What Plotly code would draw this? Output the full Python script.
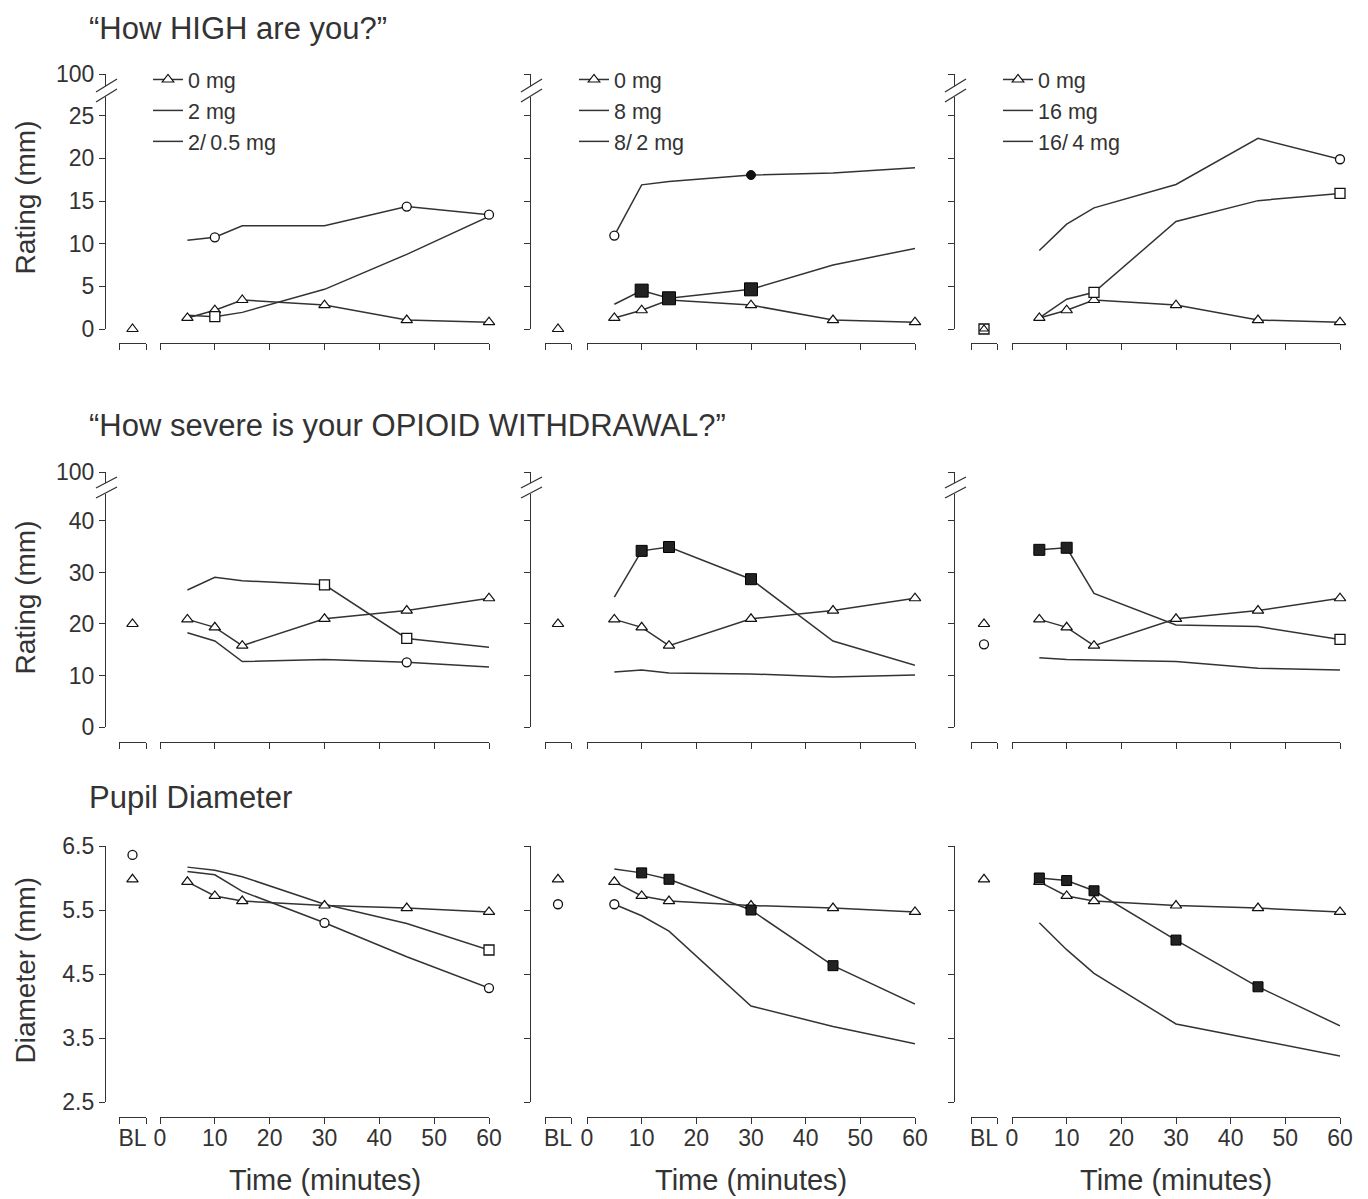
import plotly.graph_objects as go

# the page body adds an 8 px margin, so the figure is drawn 8 px smaller
PAGE_OFF = 8
W, H = 1368 - PAGE_OFF, 1199 - PAGE_OFF
FONT = "Liberation Sans, Arial, Helvetica, sans-serif"
INK = "#333333"

# ---------------- data ----------------
TIMES = [5, 10, 15, 30, 45, 60]
X_TICKS = [0, 10, 20, 30, 40, 50, 60]

# "How HIGH are you?"  (rating, mm)
high_placebo_bl = 0.0
high_placebo = [1.3, 2.2, 3.4, 2.8, 1.05, 0.8]
high_2mg = [10.4, 10.75, 12.1, 12.1, 14.35, 13.4]
high_2_05mg = [1.6, 1.45, 1.95, 4.65, 8.75, 13.2]
high_8mg = [10.95, 16.9, 17.3, 18.05, 18.3, 18.9]
high_8_2mg = [2.9, 4.5, 3.6, 4.65, 7.5, 9.45]
high_16mg = [9.2, 12.3, 14.2, 16.95, 22.35, 19.9]
high_16_4mg = [1.3, 3.5, 4.3, 12.6, 15.05, 15.9]
high_16_4mg_bl = 0.0

# "How severe is your OPIOID WITHDRAWAL?"  (rating, mm)
wd_placebo_bl = 20.0
wd_placebo = [20.9, 19.35, 15.8, 21.0, 22.6, 25.0]
wd_2mg = [18.3, 16.7, 12.7, 13.1, 12.55, 11.65]
wd_2_05mg = [26.6, 29.05, 28.4, 27.6, 17.2, 15.5]
wd_8mg = [10.7, 11.05, 10.5, 10.3, 9.7, 10.1]
wd_8_2mg = [25.2, 34.2, 34.95, 28.7, 16.7, 12.0]
wd_16mg = [13.45, 13.1, 13.0, 12.7, 11.4, 11.05]
wd_16mg_bl = 16.05
wd_16_4mg = [34.4, 34.8, 25.95, 19.8, 19.5, 17.0]

# Pupil diameter (mm)
pupil_placebo_bl = 5.98
pupil_placebo = [5.94, 5.72, 5.64, 5.57, 5.53, 5.47]
pupil_2mg = [6.1, 6.05, 5.79, 5.3, 4.77, 4.28]
pupil_2mg_bl = 6.36
pupil_2_05mg = [6.17, 6.12, 6.02, 5.59, 5.29, 4.875]
pupil_8mg = [5.59, 5.41, 5.17, 4.0, 3.68, 3.41]
pupil_8mg_bl = 5.59
pupil_8_2mg = [6.14, 6.08, 5.98, 5.5, 4.63, 4.03]
pupil_16mg = [5.3, 4.88, 4.51, 3.72, 3.47, 3.22]
pupil_16_4mg = [6.0, 5.96, 5.8, 5.03, 4.3, 3.69]

# marked time points (indices into TIMES): open / filled
high_2mg_open, high_2mg_fill = [1, 4, 5], []
high_2_05mg_open, high_2_05mg_fill = [1], []
high_8mg_open, high_8mg_fill = [0], [3]
high_8_2mg_open, high_8_2mg_fill = [], [1, 2, 3]
high_16mg_open, high_16mg_fill = [5], []
high_16_4mg_open, high_16_4mg_fill = [2, 5], []

wd_2mg_open, wd_2mg_fill = [4], []
wd_2_05mg_open, wd_2_05mg_fill = [3, 4], []
wd_8mg_open, wd_8mg_fill = [], []
wd_8_2mg_open, wd_8_2mg_fill = [], [1, 2, 3]
wd_16mg_open, wd_16mg_fill = [], []
wd_16_4mg_open, wd_16_4mg_fill = [5], [0, 1]

pupil_2mg_open, pupil_2mg_fill = [3, 5], []
pupil_2_05mg_open, pupil_2_05mg_fill = [5], []
pupil_8mg_open, pupil_8mg_fill = [0], []
pupil_8_2mg_open, pupil_8_2mg_fill = [], [1, 2, 3, 4]
pupil_16mg_open, pupil_16mg_fill = [], []
pupil_16_4mg_open, pupil_16_4mg_fill = [], [0, 1, 2, 3, 4]

legend_names = [["0 mg", "2 mg", "2/\u20090.5 mg"],
                ["0 mg", "8 mg", "8/\u20092 mg"],
                ["0 mg", "16 mg", "16/\u20094 mg"]]
row_titles = ["\u201cHow HIGH are you?\u201d",
              "\u201cHow severe is your OPIOID WITHDRAWAL?\u201d",
              "Pupil Diameter"]
y_titles = ["Rating (mm)", "Rating (mm)", "Diameter (mm)"]
y_ticks = [[0, 5, 10, 15, 20, 25], [0, 10, 20, 30, 40], [2.5, 3.5, 4.5, 5.5, 6.5]]
y_ranges = [[0, 27.2], [0, 45.24], [2.5, 6.5]]
BREAK_TICK = [100]

placebo_rows = [(high_placebo_bl, high_placebo), (wd_placebo_bl, wd_placebo),
                (pupil_placebo_bl, pupil_placebo)]
panels = [
    [  # row HIGH
        dict(a=high_2mg, ao=high_2mg_open, af=high_2mg_fill, a_bl=None,
             b=high_2_05mg, bo=high_2_05mg_open, bf=high_2_05mg_fill, b_bl=None),
        dict(a=high_8mg, ao=high_8mg_open, af=high_8mg_fill, a_bl=None,
             b=high_8_2mg, bo=high_8_2mg_open, bf=high_8_2mg_fill, b_bl=None),
        dict(a=high_16mg, ao=high_16mg_open, af=high_16mg_fill, a_bl=None,
             b=high_16_4mg, bo=high_16_4mg_open, bf=high_16_4mg_fill, b_bl=high_16_4mg_bl),
    ],
    [  # row WITHDRAWAL
        dict(a=wd_2mg, ao=wd_2mg_open, af=wd_2mg_fill, a_bl=None,
             b=wd_2_05mg, bo=wd_2_05mg_open, bf=wd_2_05mg_fill, b_bl=None),
        dict(a=wd_8mg, ao=wd_8mg_open, af=wd_8mg_fill, a_bl=None,
             b=wd_8_2mg, bo=wd_8_2mg_open, bf=wd_8_2mg_fill, b_bl=None),
        dict(a=wd_16mg, ao=wd_16mg_open, af=wd_16mg_fill, a_bl=wd_16mg_bl,
             b=wd_16_4mg, bo=wd_16_4mg_open, bf=wd_16_4mg_fill, b_bl=None),
    ],
    [  # row PUPIL
        dict(a=pupil_2mg, ao=pupil_2mg_open, af=pupil_2mg_fill, a_bl=pupil_2mg_bl,
             b=pupil_2_05mg, bo=pupil_2_05mg_open, bf=pupil_2_05mg_fill, b_bl=None),
        dict(a=pupil_8mg, ao=pupil_8mg_open, af=pupil_8mg_fill, a_bl=pupil_8mg_bl,
             b=pupil_8_2mg, bo=pupil_8_2mg_open, bf=pupil_8_2mg_fill, b_bl=None),
        dict(a=pupil_16mg, ao=pupil_16mg_open, af=pupil_16mg_fill, a_bl=None,
             b=pupil_16_4mg, bo=pupil_16_4mg_open, bf=pupil_16_4mg_fill, b_bl=None),
    ],
]

# ---------------- layout geometry (page pixels) ----------------
def fx(p):
    return (p - PAGE_OFF) / W


def fy(p):
    return 1 - (p - PAGE_OFF) / H


COL_YAX = [105, 530, 954]
COL_BL = [(119, 146), (545, 571), (971, 997)]
COL_MAIN = [(160, 489), (587, 915), (1012, 1340)]
ROW_MAIN = [(97, 329), (494, 727), (846, 1102)]
ROW_UPPER = [(74, 86), (472, 483), None]
ROW_XLINE = [343, 742, 1117]
ROW_TITLE_Y = [28, 425, 797]
ROW_YTITLE_Y = [198, 598, 970]
SQ_FILL_SIZE = [13, 11, 10]

axis_common = dict(showgrid=False, zeroline=False, showline=True, linecolor=INK,
                   linewidth=1.3, ticks="outside", tickcolor=INK, tickwidth=1.3,
                   ticklen=6, fixedrange=True, automargin=False,
                   tickfont=dict(size=23, color=INK, family=FONT))
minor_x = dict(tickmode="array", ticks="outside", ticklen=6, tickwidth=1.3, tickcolor=INK)

layout = dict(width=W, height=H,
              margin=dict(l=0, r=0, t=0, b=0, pad=0, autoexpand=False),
              paper_bgcolor="white", plot_bgcolor="white",
              font=dict(family=FONT, color=INK, size=22), showlegend=True,
              hovermode=False)

fig = go.Figure()
cnt = {"x": 0, "y": 0}


def new_axis(kind):
    cnt[kind] += 1
    n = cnt[kind]
    key = f"{kind}axis" if n == 1 else f"{kind}axis{n}"
    ref = kind if n == 1 else f"{kind}{n}"
    return key, ref


LINE = dict(color=INK, width=1.5)
TRI = dict(symbol="triangle-up", size=10, color="white", line=dict(color="#111", width=1.2))
OPEN_CIRC = dict(symbol="circle", size=9, color="white", line=dict(color="#111", width=1.3))
FILL_CIRC = dict(symbol="circle", size=9, color="#111", line=dict(color="#111", width=1))
OPEN_SQ = dict(symbol="square", size=10, color="white", line=dict(color="#111", width=1.3))

shapes = []
annotations = []

for r in range(3):
    for c in range(3):
        kb, rb = new_axis("x")
        km, rm = new_axis("x")
        ky, ry = new_axis("y")
        layout[kb] = dict(axis_common, domain=[fx(COL_BL[c][0]), fx(COL_BL[c][1])],
                          range=[0, 1], anchor="free", position=fy(ROW_XLINE[r]),
                          tickmode="array", tickvals=[0.5], ticktext=["BL"], ticks="",
                          showticklabels=(r == 2),
                          minor=dict(minor_x, tickvals=[0, 1]))
        layout[km] = dict(axis_common, domain=[fx(COL_MAIN[c][0]), fx(COL_MAIN[c][1])],
                          range=[0, 60], anchor="free", position=fy(ROW_XLINE[r]),
                          tickmode="array", tickvals=X_TICKS, ticks="",
                          showticklabels=(r == 2),
                          minor=dict(minor_x, tickvals=X_TICKS))
        top, bot = ROW_MAIN[r]
        layout[ky] = dict(axis_common, domain=[fy(bot), fy(top)], range=y_ranges[r],
                          anchor="free", position=fx(COL_YAX[c]), tickmode="array",
                          tickvals=y_ticks[r], showticklabels=(c == 0))
        if ROW_UPPER[r] is not None:
            ku, ru = new_axis("y")
            ut, ub = ROW_UPPER[r]
            layout[ku] = dict(axis_common, domain=[fy(ub), fy(ut)], range=[98.5, 100],
                              anchor="free", position=fx(COL_YAX[c]), tickmode="array",
                              tickvals=BREAK_TICK, showticklabels=(c == 0))
            # empty trace so that the upper (broken) axis segment is drawn
            fig.add_trace(go.Scatter(x=[None], y=[None], xaxis=rm, yaxis=ru, mode="lines",
                                     showlegend=False, hoverinfo="skip"))
            ax = COL_YAX[c]
            for dy in (0, 10):
                y0 = (92 if r == 0 else 488) + dy
                y1 = (79 if r == 0 else 477) + dy
                shapes.append(dict(type="line", xref="paper", yref="paper",
                                   x0=fx(ax - 9), x1=fx(ax + 12), y0=fy(y0), y1=fy(y1),
                                   line=dict(color=INK, width=1.3)))

        p = panels[r][c]
        pl_bl, pl = placebo_rows[r]
        leg = "legend" if c == 0 else f"legend{c + 1}"
        names = legend_names[c]
        show = (r == 0)

        # drug lines
        fig.add_trace(go.Scatter(x=TIMES, y=p["a"], xaxis=rm, yaxis=ry, mode="lines",
                                 line=LINE, name=names[1], showlegend=show, legend=leg,
                                 legendrank=2, cliponaxis=False))
        fig.add_trace(go.Scatter(x=TIMES, y=p["b"], xaxis=rm, yaxis=ry, mode="lines",
                                 line=LINE, name=names[2], showlegend=show, legend=leg,
                                 legendrank=3, cliponaxis=False))
        # baseline drug markers
        if p["a_bl"] is not None:
            fig.add_trace(go.Scatter(x=[0.5], y=[p["a_bl"]], xaxis=rb, yaxis=ry,
                                     mode="markers", marker=OPEN_CIRC, showlegend=False,
                                     cliponaxis=False))
        if p["b_bl"] is not None:
            fig.add_trace(go.Scatter(x=[0.5], y=[p["b_bl"]], xaxis=rb, yaxis=ry,
                                     mode="markers", marker=OPEN_SQ, showlegend=False,
                                     cliponaxis=False))
        # placebo
        fig.add_trace(go.Scatter(x=TIMES, y=pl, xaxis=rm, yaxis=ry, mode="lines+markers",
                                 line=LINE, marker=TRI, name=names[0], showlegend=show,
                                 legend=leg, legendrank=1, cliponaxis=False))
        bl_tri = dict(TRI, size=8 if p["b_bl"] is not None else 10)
        fig.add_trace(go.Scatter(x=[0.5], y=[pl_bl], xaxis=rb, yaxis=ry, mode="markers",
                                 marker=bl_tri, showlegend=False, cliponaxis=False))
        # significance markers
        fill_sq = dict(symbol="square", size=SQ_FILL_SIZE[r], color="#222",
                       line=dict(color="#000", width=1))
        for series, idx, style in ((p["a"], p["ao"], OPEN_CIRC), (p["a"], p["af"], FILL_CIRC),
                                   (p["b"], p["bo"], OPEN_SQ), (p["b"], p["bf"], fill_sq)):
            if idx:
                fig.add_trace(go.Scatter(x=[TIMES[i] for i in idx], y=[series[i] for i in idx],
                                         xaxis=rm, yaxis=ry, mode="markers", marker=style,
                                         showlegend=False, cliponaxis=False))

        if r == 2:
            annotations.append(dict(text="Time (minutes)", xref="paper", yref="paper",
                                    x=fx((COL_MAIN[c][0] + COL_MAIN[c][1]) / 2), y=fy(1180),
                                    xanchor="center", yanchor="middle", showarrow=False,
                                    font=dict(size=29, color=INK, family=FONT)))

    annotations.append(dict(text=row_titles[r], xref="paper", yref="paper", x=fx(87),
                            y=fy(ROW_TITLE_Y[r]), xanchor="left", yanchor="middle",
                            showarrow=False, font=dict(size=31, color=INK, family=FONT)))
    annotations.append(dict(text=y_titles[r], xref="paper", yref="paper", x=fx(24.5),
                            y=fy(ROW_YTITLE_Y[r]), xanchor="center", yanchor="middle",
                            textangle=-90, showarrow=False,
                            font=dict(size=28, color=INK, family=FONT)))

for c, lx in enumerate([148, 574, 998]):
    key = "legend" if c == 0 else f"legend{c + 1}"
    layout[key] = dict(x=fx(lx), y=fy(59), xanchor="left", yanchor="top",
                       bgcolor="rgba(0,0,0,0)", borderwidth=0, itemwidth=30,
                       font=dict(size=21.5, color=INK, family=FONT), tracegroupgap=0)

layout["shapes"] = shapes
layout["annotations"] = annotations
fig.update_layout(**layout)
fig.write_html("out.html", config={"displayModeBar": False})
